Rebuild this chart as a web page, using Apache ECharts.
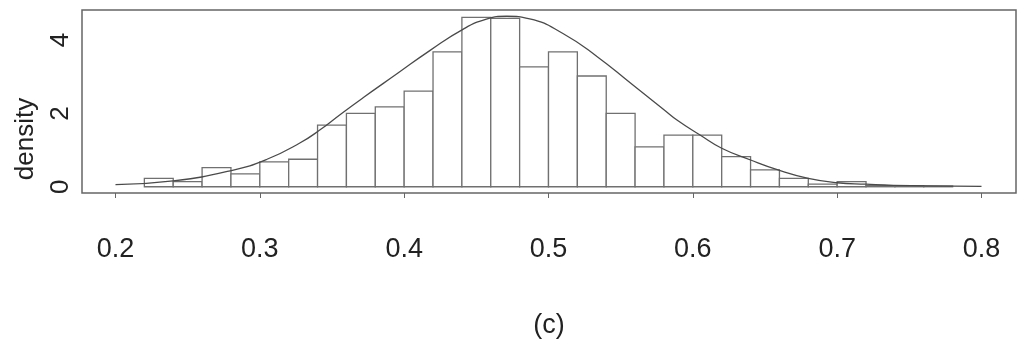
<!DOCTYPE html>
<html>
<head>
<meta charset="utf-8">
<script src="https://cdn.jsdelivr.net/npm/echarts@6/dist/echarts.min.js"></script>
<style>
  html, body { margin: 0; padding: 0; background: #fff; }
  #chart { width: 1018px; height: 345px; }
</style>
</head>
<body>
<div id="chart"></div>
<script>
// Histogram bins (left edge) of width 0.02, and their densities
const binStarts = [0.22, 0.24, 0.26, 0.28, 0.30, 0.32, 0.34, 0.36, 0.38, 0.40,
                   0.42, 0.44, 0.46, 0.48, 0.50, 0.52, 0.54, 0.56, 0.58, 0.60,
                   0.62, 0.64, 0.66, 0.68, 0.70, 0.72, 0.74, 0.76];
const binWidth = 0.02;
const densities = [0.23, 0.14, 0.52, 0.35, 0.68, 0.75, 1.68, 2.00, 2.18, 2.61,
                   3.68, 4.62, 4.59, 3.27, 3.68, 3.02, 2.00, 1.09, 1.41, 1.41,
                   0.82, 0.46, 0.23, 0.07, 0.14, 0.03, 0.03, 0.02];

// Fitted density curve
const curveX = [0.200, 0.240, 0.281, 0.305, 0.328, 0.342, 0.356, 0.372, 0.395, 0.418,
                0.441, 0.457, 0.471, 0.487, 0.510, 0.534, 0.557, 0.580, 0.589, 0.605,
                0.620, 0.640, 0.659, 0.680, 0.700, 0.720, 0.739, 0.780, 0.800];
const curveY = [0.06, 0.16, 0.45, 0.75, 1.20, 1.56, 1.98, 2.44, 3.08, 3.72,
                4.30, 4.57, 4.65, 4.58, 4.18, 3.54, 2.82, 2.10, 1.82, 1.41,
                1.05, 0.73, 0.46, 0.23, 0.11, 0.07, 0.04, 0.02, 0.01];

// Axis ticks
const xTicks = [0.2, 0.3, 0.4, 0.5, 0.6, 0.7, 0.8];
const yTicks = [0, 2, 4];

const FONT = "'Liberation Sans', Arial, Helvetica, sans-serif";
const TEXT = '#222';

const histData = binStarts.map((s, i) => [s, s + binWidth, densities[i]]);
const curveData = curveX.map((x, i) => [x, curveY[i]]);

const chart = echarts.init(document.getElementById('chart'), null, { renderer: 'canvas' });

chart.setOption({
  animation: false,
  backgroundColor: '#fff',
  grid: {
    left: 82, right: 2, top: 10, bottom: 152,
    show: true, borderColor: '#666', borderWidth: 1.5, backgroundColor: 'transparent'
  },
  xAxis: {
    type: 'value',
    min: 0.1768, max: 0.8239,
    splitLine: { show: false },
    axisLine: { show: false, onZero: false },
    axisTick: { show: true, customValues: xTicks, length: 5, inside: false,
                lineStyle: { color: '#666', width: 1 } },
    axisLabel: { customValues: xTicks, margin: 43, fontSize: 27, fontFamily: FONT, color: TEXT,
                 formatter: v => v.toFixed(1) },
    name: '(c)',
    nameLocation: 'middle',
    nameGap: 119,
    nameTextStyle: { fontSize: 27, fontFamily: FONT, color: TEXT }
  },
  yAxis: {
    type: 'value',
    min: -0.17, max: 4.82,
    splitLine: { show: false },
    axisLine: { show: false, onZero: false },
    axisTick: { show: false, customValues: yTicks },
    axisLabel: { customValues: yTicks, rotate: 90, margin: 8, fontSize: 26, fontFamily: FONT, color: TEXT }
  },
  graphic: [{
    type: 'text',
    x: 26, y: 139,
    rotation: Math.PI / 2,
    style: { text: 'density', fontSize: 26, fontFamily: FONT, fill: TEXT,
             align: 'center', verticalAlign: 'middle' }
  }],
  series: [
    {
      type: 'custom',
      data: histData,
      encode: { x: [0, 1], y: 2 },
      z: 2,
      renderItem: function (params, api) {
        const top = api.coord([api.value(0), api.value(2)]);
        const base = api.coord([api.value(1), 0]);
        return {
          type: 'rect',
          shape: { x: top[0], y: top[1], width: base[0] - top[0], height: base[1] - top[1] },
          style: { fill: '#fff', stroke: '#707070', lineWidth: 1.3 }
        };
      }
    },
    {
      type: 'line',
      data: curveData,
      smooth: true,
      showSymbol: false,
      symbol: 'none',
      z: 3,
      lineStyle: { color: '#4a4a4a', width: 1.3 }
    }
  ]
});
</script>
</body>
</html>
